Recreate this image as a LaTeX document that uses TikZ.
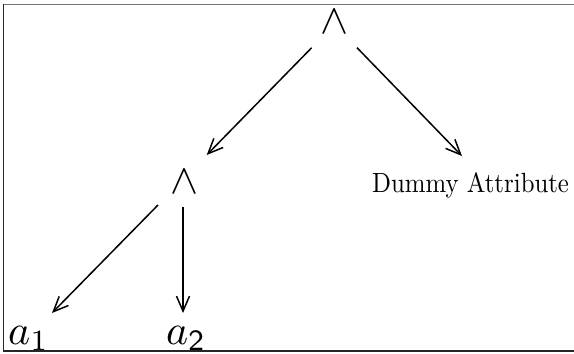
\documentclass[tikz,border=0pt]{standalone}
\usepackage{graphicx}
\usetikzlibrary{arrows.meta}
\begin{document}
\begin{tikzpicture}[x=1pt,y=-1pt,
  arr/.style={line width=1.5pt,-{Straight Barb[length=15pt,width=13pt,line width=1.5pt]}},
  mathlbl/.style={inner sep=0pt},
  txtlbl/.style={inner sep=0pt}]
\useasboundingbox (0,0) rectangle (574,354);
\draw[line width=1.6pt,black!55] (3,4.5) -- (574,4.5);
\draw[line width=1.4pt,black!85] (3.5,4) -- (3.5,351) -- (574,351);
\node[mathlbl,anchor=base] (top) at (334.5,33) {\scalebox{4.2}{$\wedge$}};
\node[mathlbl,anchor=base] (w2) at (184.5,193) {\scalebox{4.2}{$\wedge$}};
\node[txtlbl,anchor=base west] (dummy) at (372,192) {\scalebox{2.48}[2.78]{Dummy Attribute}};
\node[mathlbl,anchor=base west] (a1) at (8,344) {\scalebox{4.2}{$a_1$}};
\node[mathlbl,anchor=base west] (a2) at (166,344) {\scalebox{4.2}{$a_{\mathsf{2}}$}};
\draw[arr] ([shift={(-22.8,14.7)}]top.base) -- ([shift={(22.2,-38)}]w2.base);
\draw[arr] ([shift={(22.5,14.7)}]top.base) -- ([shift={(90,-36)}]dummy.base west);
\draw[arr] ([shift={(-26.5,12)}]w2.base) -- ([shift={(44,-31)}]a1.base west);
\draw[arr] ([shift={(-1.5,14)}]w2.base) -- ([shift={(17,-31)}]a2.base west);
\end{tikzpicture}
\end{document}
